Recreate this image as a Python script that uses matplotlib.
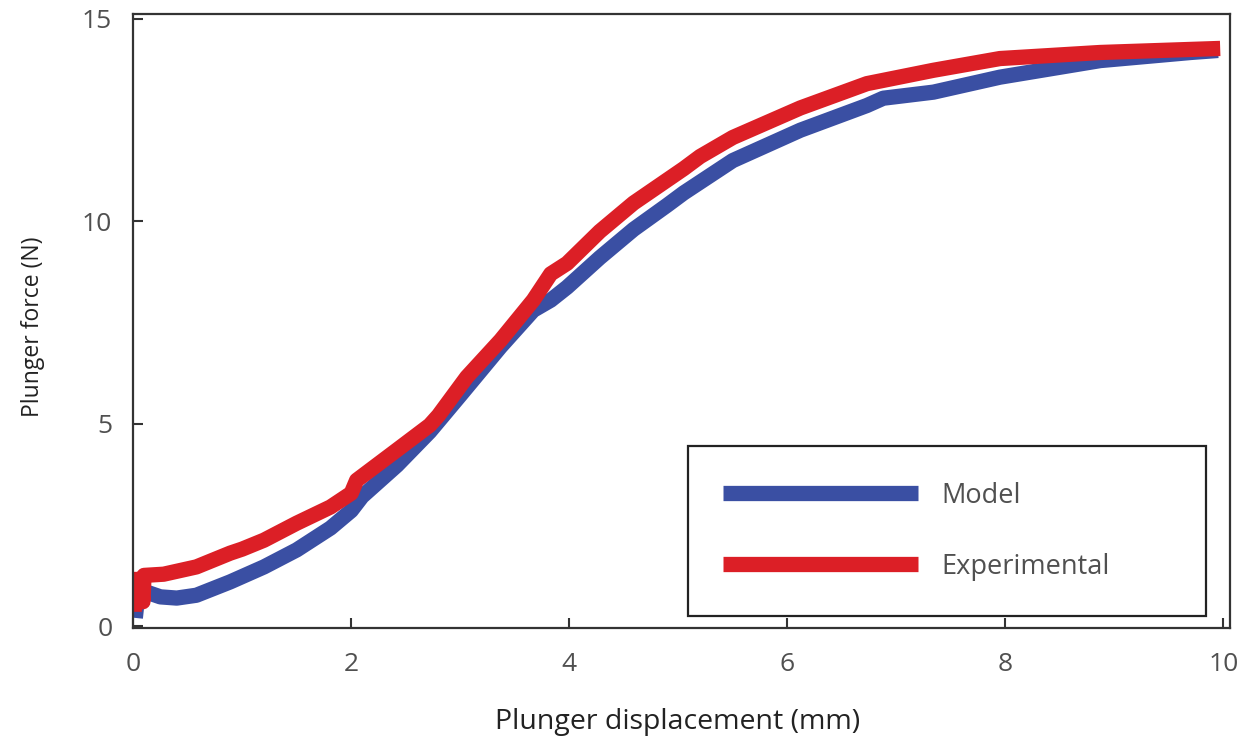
import matplotlib
matplotlib.use('Agg')
import matplotlib.pyplot as plt

plt.rcParams.update({
    'font.family': ['Open Sans', 'DejaVu Sans'],
    'font.size': 18,
})

# Model curve
model_x = [0.02, 0.05, 0.12, 0.25, 0.4, 0.58, 0.89, 1.2, 1.5, 1.81, 2.0, 2.1,
           2.42, 2.72, 3.0, 3.37, 3.67, 3.83, 3.98, 4.28, 4.59, 4.9, 5.05, 5.5,
           6.12, 6.73, 6.88, 7.34, 7.95, 8.87, 9.7, 9.95]
model_y = [0.2, 0.95, 0.84, 0.72, 0.69, 0.76, 1.09, 1.46, 1.88, 2.42, 2.85, 3.2,
           3.97, 4.8, 5.7, 6.9, 7.8, 8.05, 8.37, 9.1, 9.8, 10.4, 10.7, 11.5,
           12.25, 12.86, 13.04, 13.19, 13.56, 13.97, 14.17, 14.22]

# Experimental curve
exp_x = [0.01, 0.01, 0.07, 0.09, 0.1, 0.28, 0.58, 0.89, 1.0, 1.2, 1.5, 1.81,
         2.0, 2.05, 2.42, 2.72, 2.8, 3.06, 3.37, 3.67, 3.83, 3.98, 4.28, 4.59,
         5.05, 5.2, 5.5, 6.12, 6.73, 7.34, 7.95, 8.87, 9.97]
exp_y = [0.35, 1.15, 1.15, 0.6, 1.25, 1.28, 1.46, 1.8, 1.9, 2.12, 2.54, 2.94,
         3.28, 3.6, 4.35, 4.96, 5.2, 6.15, 7.06, 8.05, 8.7, 8.96, 9.75, 10.45,
         11.3, 11.6, 12.07, 12.8, 13.4, 13.73, 14.02, 14.17, 14.27]

BLUE = '#3a4fa3'
RED = '#dc1f26'
TEXT = '#505050'

fig = plt.figure(figsize=(12.56, 7.42), dpi=100)
ax = fig.add_axes([0.106, 0.1536, 0.8733, 0.8275])

ax.plot(model_x, model_y, color=BLUE, lw=11, solid_capstyle='butt',
        solid_joinstyle='round', label='Model')
ax.plot(exp_x, exp_y, color=RED, lw=11, solid_capstyle='butt',
        solid_joinstyle='round', label='Experimental')

ax.set_xlim(0, 10.06)
ax.set_ylim(-0.05, 15.12)
ax.set_xticks([0, 2, 4, 6, 8, 10])
ax.set_yticks([0, 5, 10, 15])

for side in ['left', 'right', 'top', 'bottom']:
    ax.spines[side].set_linewidth(1.6)
    ax.spines[side].set_color('#333333')

ax.tick_params(direction='in', length=7, width=1.5, color='#333333',
               labelcolor=TEXT, labelsize=19)
ax.tick_params(axis='x', pad=17)
ax.tick_params(axis='y', pad=15)

ax.set_xlabel('Plunger displacement (mm)', color='#222222', fontsize=20.5)
ax.set_ylabel('Plunger force (N)', color='#222222', fontsize=16.5)
ax.xaxis.set_label_coords(0.496, -0.13)
ax.yaxis.set_label_coords(-0.08, 0.49)

leg = ax.legend(loc='lower left', bbox_to_anchor=(0.506, 0.0195, 0.472, 0.27),
                mode='expand', frameon=True, fancybox=False, framealpha=1,
                edgecolor='#222222', handlelength=7.2, handletextpad=0.85,
                borderpad=1.3, labelspacing=1.6, fontsize=19.5, borderaxespad=0)
leg.get_frame().set_linewidth(1.6)
for t in leg.get_texts():
    t.set_color(TEXT)

fig.savefig('out.png', dpi=100)
